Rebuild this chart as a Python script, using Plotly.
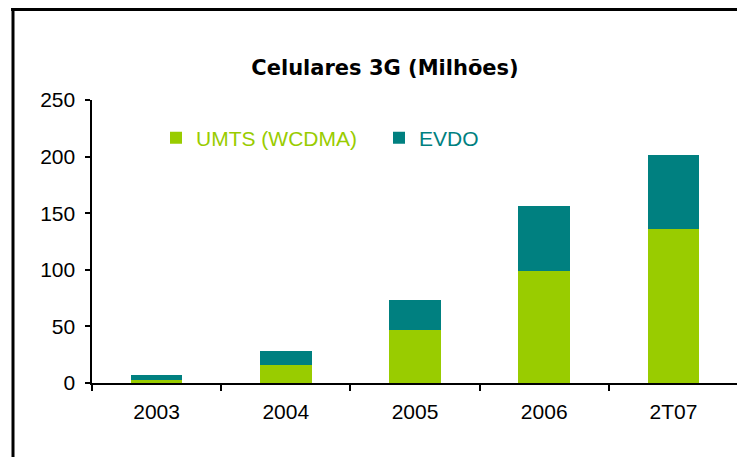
import plotly.graph_objects as go

periodos = ["2003", "2004", "2005", "2006", "2T07"]
umts = [3, 16, 47, 99, 136]
evdo = [4, 12, 26, 57, 65]

cor_umts = "#99CC00"
cor_evdo = "#008080"

# the page body has an 8px margin, so the figure is placed at (8, 8)
OFF = 8
W, H = 745 - OFF, 457 - OFF
L, R, T, B = 92 - OFF, 7, 100 - OFF, 74
pw = W - L - R
ph = H - T - B


def px_x(x):
    return (x - OFF - L) / pw


def px_y(y):
    return (H - B - (y - OFF)) / ph


fig = go.Figure()
fig.add_trace(go.Bar(
    x=periodos, y=umts,
    name="<span style='color:%s'>UMTS (WCDMA)</span>" % cor_umts,
    marker=dict(color=cor_umts, line=dict(width=0)),
))
fig.add_trace(go.Bar(
    x=periodos, y=evdo,
    name="<span style='color:%s'>EVDO</span>" % cor_evdo,
    marker=dict(color=cor_evdo, line=dict(width=0)),
))

fig.update_layout(
    barmode="stack",
    bargap=0.6,
    width=W, height=H,
    margin=dict(l=L, r=R, t=T, b=B),
    paper_bgcolor="white",
    plot_bgcolor="white",
    font=dict(family="Liberation Sans, Arial", size=21, color="black"),
    title=dict(
        text="<b>Celulares 3G (Milhões)</b>",
        font=dict(family="DejaVu Sans", size=21, color="black"),
        x=(385 - OFF) / W, xanchor="center",
        y=1 - (68 - OFF) / H, yanchor="middle",
    ),
    legend=dict(
        orientation="h",
        x=px_x(156), xanchor="left",
        y=px_y(138), yanchor="middle",
        bgcolor="rgba(0,0,0,0)",
        font=dict(size=21),
        traceorder="normal",
        entrywidth=178,
    ),
    xaxis=dict(
        showline=True, linecolor="black", linewidth=1.5,
        ticks="outside", tickson="boundaries", ticklen=6,
        tickcolor="black", tickwidth=1.5,
        ticklabelstandoff=9,
        showgrid=False,
    ),
    yaxis=dict(
        range=[0, 250], dtick=50,
        showline=True, linecolor="black", linewidth=1.5,
        ticks="outside", ticklen=5, tickcolor="black", tickwidth=1.5,
        showgrid=False, zeroline=False,
        ticksuffix=" ",
    ),
    showlegend=True,
)

# frame: left and top edges
fx = px_x(13)
fy = px_y(9.5)
fig.add_shape(type="line", xref="paper", yref="paper",
              x0=fx, x1=fx, y0=fy + 0.005, y1=px_y(H + 30),
              line=dict(color="black", width=3))
fig.add_shape(type="line", xref="paper", yref="paper",
              x0=fx - 0.003, x1=px_x(W + 30), y0=fy, y1=fy,
              line=dict(color="black", width=3))

fig.write_html("out.html")
